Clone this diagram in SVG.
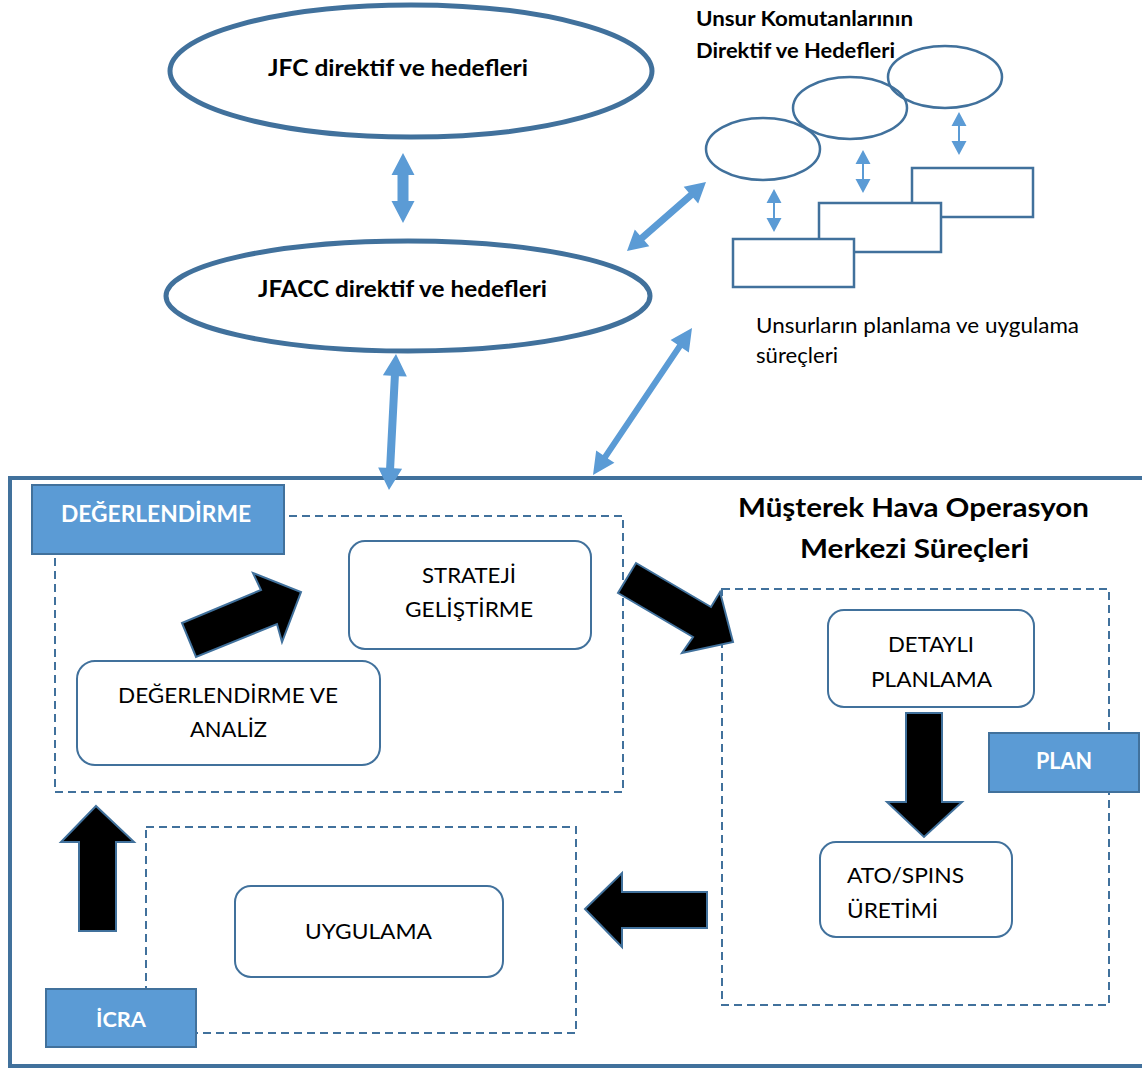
<svg xmlns="http://www.w3.org/2000/svg" width="1142" height="1068" viewBox="0 0 1142 1068">
  <style>
    text { font-family: Lato, "Liberation Sans", "DejaVu Sans", sans-serif; fill: #000; }
    .b { font-weight: bold; }
    .w { fill: #fff; }
    .ell { fill: none; stroke: #41719C; stroke-width: 5; }
    .sell { fill: none; stroke: #41719C; stroke-width: 2.5; }
    .srect { fill: #fff; stroke: #41719C; stroke-width: 2.5; }
    .frame { fill: none; stroke: #41719C; stroke-width: 4; }
    .dash { fill: none; stroke: #41719C; stroke-width: 2; stroke-dasharray: 8 5; }
    .tag { fill: #5B9BD5; stroke: #41719C; stroke-width: 2; }
    .box { fill: #fff; stroke: #41719C; stroke-width: 2; }
    .blk { fill: #000; stroke: #41719C; stroke-width: 2; stroke-linejoin: miter; }
    .blu { fill: #5B9BD5; }
  </style>

  <rect width="1142" height="1068" fill="#fff"/>

  <!-- outer frame of the JAOC processes -->
  <rect id="frame" class="frame" x="10" y="478" width="1140" height="588"/>

  <!-- JFC / JFACC directives -->
  <g id="jfc">
    <ellipse class="ell" cx="411" cy="71" rx="241" ry="66"/>
    <text class="b" x="268" y="76" font-size="23" textLength="260" lengthAdjust="spacingAndGlyphs">JFC direktif ve hedefleri</text>
  </g>
  <g id="jfacc">
    <ellipse class="ell" cx="408" cy="296" rx="242" ry="55"/>
    <text class="b" x="258" y="297" font-size="23" textLength="289" lengthAdjust="spacingAndGlyphs">JFACC direktif ve hedefleri</text>
  </g>

  <!-- component commanders -->
  <g id="component-heading">
    <text class="b" x="696" y="26" font-size="20" textLength="217" lengthAdjust="spacingAndGlyphs">Unsur Komutanlarının</text>
    <text class="b" x="696" y="58" font-size="20" textLength="199" lengthAdjust="spacingAndGlyphs">Direktif ve Hedefleri</text>
  </g>
  <g id="component-goals">
    <ellipse class="sell" cx="945" cy="77" rx="57" ry="31"/>
    <ellipse class="sell" cx="850" cy="108" rx="57" ry="31"/>
    <ellipse class="sell" cx="763" cy="149" rx="57" ry="31"/>
  </g>
  <g id="component-processes">
    <rect class="srect" x="912" y="168" width="121" height="49"/>
    <rect class="srect" x="819" y="203" width="122" height="49"/>
    <rect class="srect" x="733" y="239" width="121" height="48"/>
  </g>
  <g id="component-caption">
    <text x="756" y="333" font-size="21" textLength="323" lengthAdjust="spacingAndGlyphs">Unsurların planlama ve uygulama</text>
    <text x="756" y="363" font-size="21" textLength="82" lengthAdjust="spacingAndGlyphs">süreçleri</text>
  </g>

  <!-- JAOC title -->
  <g id="jaoc-title">
    <text class="b" x="738" y="517" font-size="26" textLength="351" lengthAdjust="spacingAndGlyphs">Müşterek Hava Operasyon</text>
    <text class="b" x="800" y="558" font-size="26" textLength="229" lengthAdjust="spacingAndGlyphs">Merkezi Süreçleri</text>
  </g>

  <!-- phase areas -->
  <rect id="assess-area" class="dash" x="55" y="516" width="568" height="276"/>
  <rect id="plan-area" class="dash" x="722" y="589" width="387" height="416"/>
  <rect id="exec-area" class="dash" x="146" y="827" width="430" height="206"/>

  <!-- phase tags -->
  <g id="tag-assess">
    <rect class="tag" x="32" y="485" width="252" height="69"/>
    <text class="b w" x="61" y="522" font-size="22" textLength="190" lengthAdjust="spacingAndGlyphs">DEĞERLENDİRME</text>
  </g>
  <g id="tag-plan">
    <rect class="tag" x="989" y="733" width="150" height="59"/>
    <text class="b w" x="1036" y="769" font-size="22" textLength="56" lengthAdjust="spacingAndGlyphs">PLAN</text>
  </g>
  <g id="tag-exec">
    <rect class="tag" x="46" y="989" width="150" height="58"/>
    <text class="b w" x="96" y="1027" font-size="21" textLength="50" lengthAdjust="spacingAndGlyphs">İCRA</text>
  </g>

  <!-- process steps -->
  <g id="strategy">
    <rect class="box" x="349" y="541" width="242" height="108" rx="16"/>
    <text x="422" y="583" font-size="21" textLength="94" lengthAdjust="spacingAndGlyphs">STRATEJİ</text>
    <text x="405" y="617" font-size="21" textLength="128" lengthAdjust="spacingAndGlyphs">GELİŞTİRME</text>
  </g>
  <g id="assessment">
    <rect class="box" x="77" y="661" width="303" height="104" rx="18"/>
    <text x="118" y="703" font-size="21" textLength="220" lengthAdjust="spacingAndGlyphs">DEĞERLENDİRME VE</text>
    <text x="190" y="737" font-size="21" textLength="77" lengthAdjust="spacingAndGlyphs">ANALİZ</text>
  </g>
  <g id="detailed-planning">
    <rect class="box" x="828" y="610" width="206" height="97" rx="16"/>
    <text x="888" y="652" font-size="21" textLength="86" lengthAdjust="spacingAndGlyphs">DETAYLI</text>
    <text x="871" y="687" font-size="21" textLength="121" lengthAdjust="spacingAndGlyphs">PLANLAMA</text>
  </g>
  <g id="ato-spins">
    <rect class="box" x="820" y="842" width="192" height="95" rx="16"/>
    <text x="847" y="883" font-size="21" textLength="117" lengthAdjust="spacingAndGlyphs">ATO/SPINS</text>
    <text x="847" y="918" font-size="21" textLength="91" lengthAdjust="spacingAndGlyphs">ÜRETİMİ</text>
  </g>
  <g id="execution">
    <rect class="box" x="235" y="886" width="268" height="91" rx="16"/>
    <text x="305" y="939" font-size="21" textLength="127" lengthAdjust="spacingAndGlyphs">UYGULAMA</text>
  </g>

  <g id="connectors">
    <!-- cycle arrows -->
    <polygon class="blk" points="182,623 261,590 253,573 301,592 282,642 277,624 196,657"/>
    <polygon class="blk" points="636,563 711,607 720,592 733,642 682,653 693,637 618,593"/>
    <polygon class="blk" points="906,713 942,713 942,802 962,802 924,837 887,802 906,802"/>
    <polygon class="blk" points="585,909 622,873 622,892 707,892 707,928 622,928 622,947"/>
    <polygon class="blk" points="96,806 134,842 116,842 116,931 79,931 79,842 61,842"/>

    <!-- two-way links -->
    <polygon class="blu" transform="translate(403,153) rotate(90)" points="0,0 22,-11.5 22,-5.5 48,-5.5 48,-11.5 70,0 48,11.5 48,5.5 22,5.5 22,11.5"/>
    <polygon class="blu" transform="translate(396,354) rotate(92.95)" points="0,0 22,-12 22,-4 114.2,-4 114.2,-12 136.2,0 114.2,12 114.2,4 22,4 22,12"/>
    <polygon class="blu" transform="translate(692,328) rotate(123.96)" points="0,0 22,-11 22,-3 155.2,-3 155.2,-11 177.2,0 155.2,11 155.2,3 22,3 22,11"/>
    <polygon class="blu" transform="translate(706,182) rotate(138.87)" points="0,0 20,-11 20,-3.5 84.9,-3.5 84.9,-11 104.9,0 84.9,11 84.9,3.5 20,3.5 20,11"/>
    <polygon class="blu" transform="translate(774,189) rotate(90)" points="0,0 14,-7.5 14,-1 29,-1 29,-7.5 43,0 29,7.5 29,1 14,1 14,7.5"/>
    <polygon class="blu" transform="translate(863,150) rotate(90)" points="0,0 14,-7.5 14,-1 29,-1 29,-7.5 43,0 29,7.5 29,1 14,1 14,7.5"/>
    <polygon class="blu" transform="translate(959,112) rotate(90)" points="0,0 14,-7.5 14,-1 29,-1 29,-7.5 43,0 29,7.5 29,1 14,1 14,7.5"/>
  </g>
</svg>
